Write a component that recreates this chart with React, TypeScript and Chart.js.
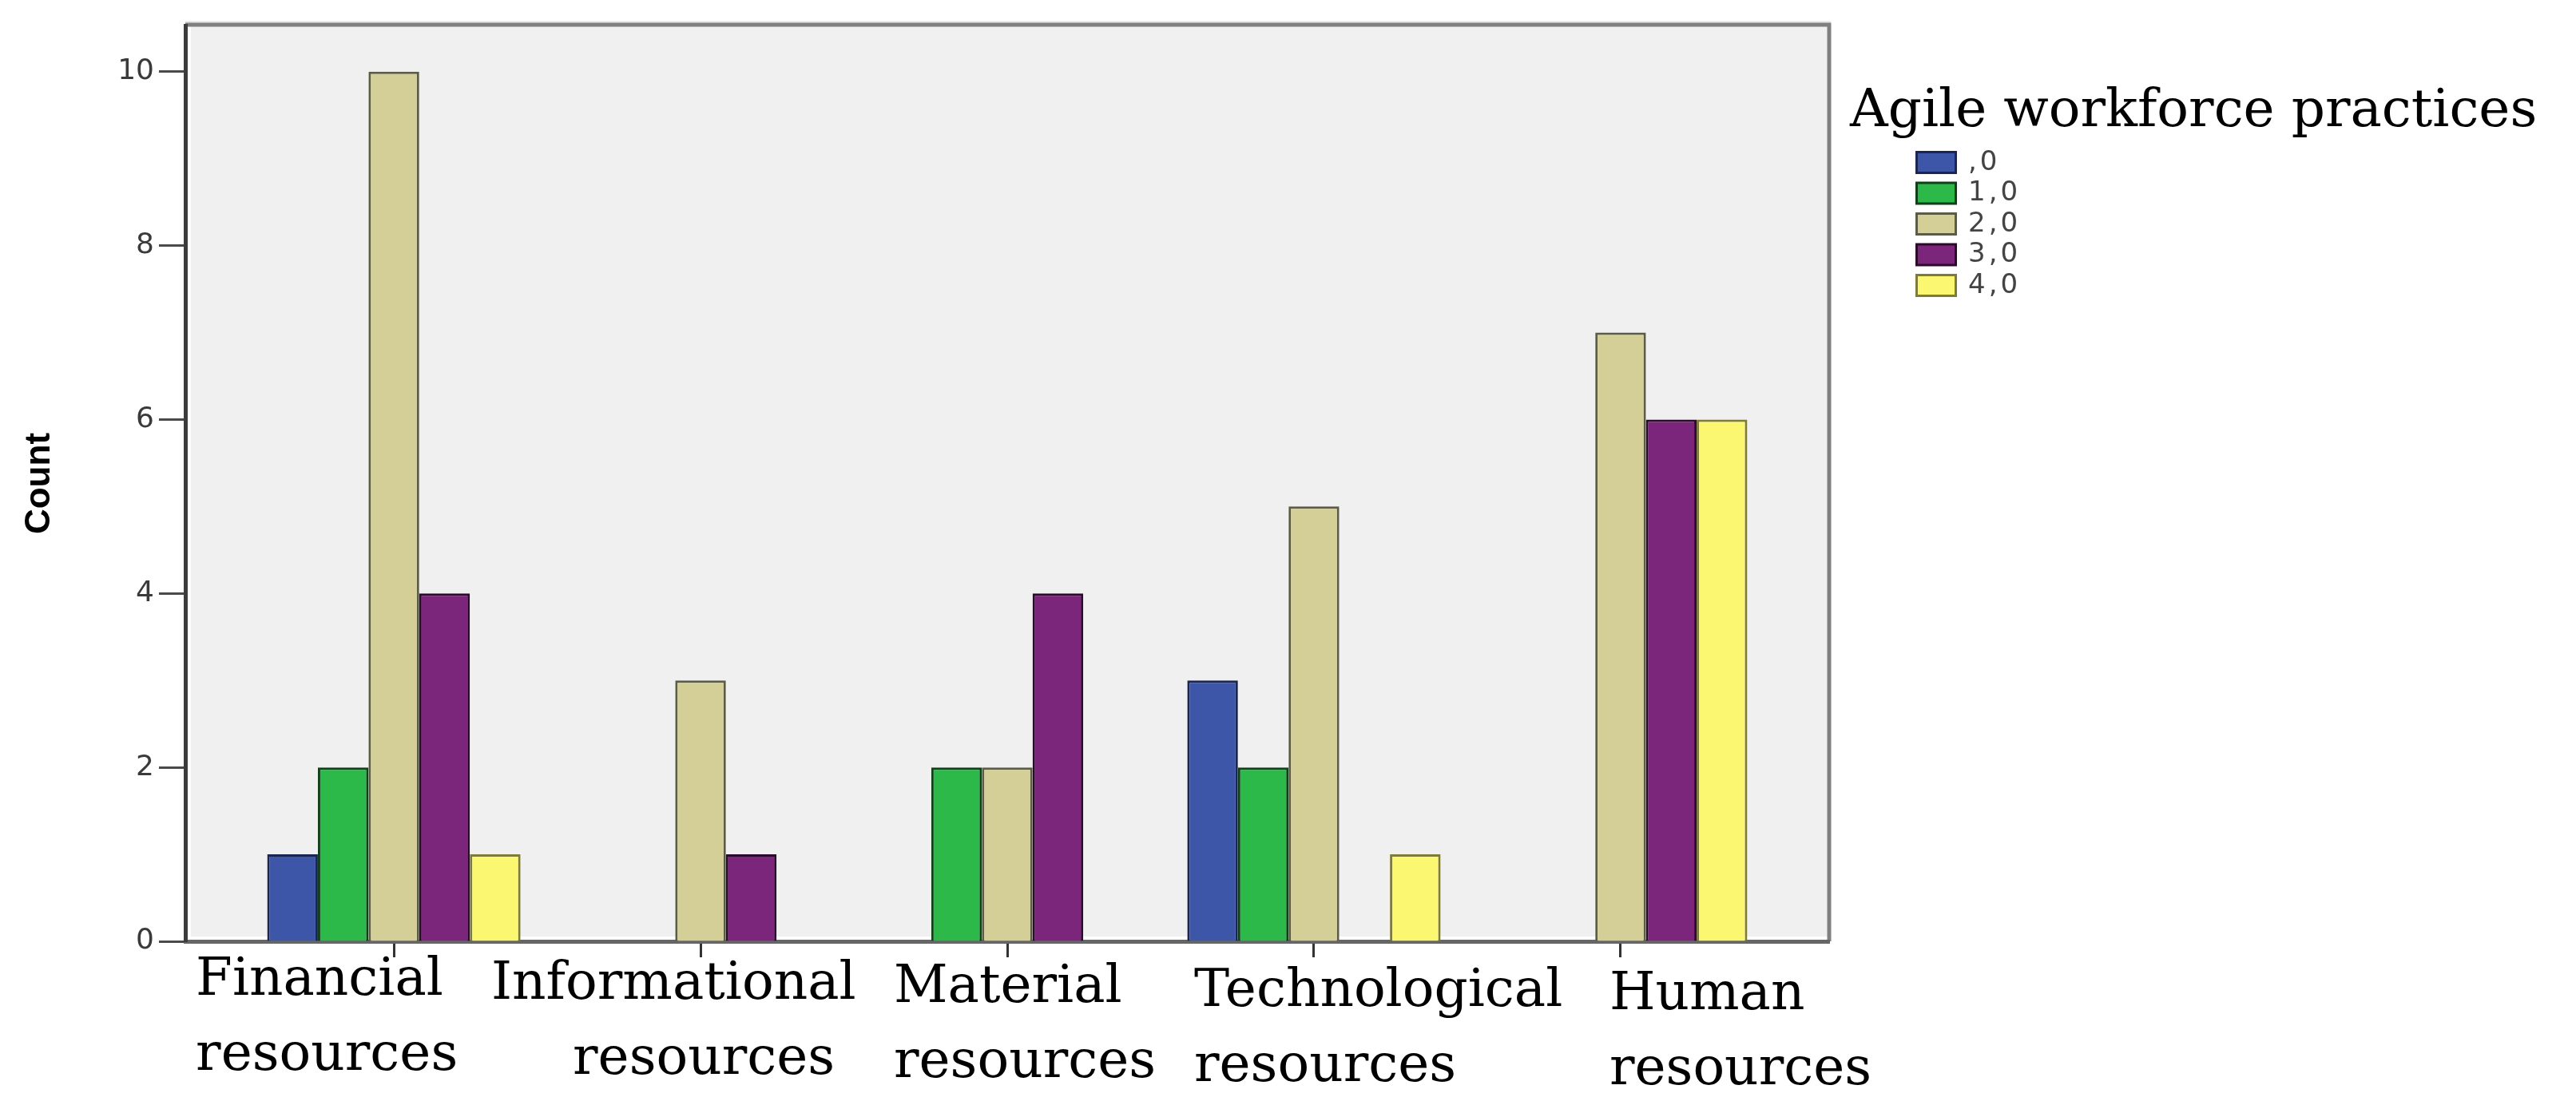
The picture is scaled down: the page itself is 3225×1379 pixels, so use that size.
import React, { useEffect, useRef } from "react";
import { Chart, registerables } from "chart.js";

Chart.register(...registerables);

// categories on the x axis (two lines each)
const categories = [
	["Financial", "resources"],
	["Informational", "resources"],
	["Material", "resources"],
	["Technological", "resources"],
	["Human", "resources"],
];

// series: agile workforce practice levels
const practiceLevels = [",0", "1,0", "2,0", "3,0", "4,0"];
const level0 = [1, 0, 0, 3, 0];
const level1 = [2, 0, 2, 2, 0];
const level2 = [10, 3, 2, 5, 7];
const level3 = [4, 1, 4, 0, 6];
const level4 = [1, 0, 0, 1, 6];
const seriesValues = [level0, level1, level2, level3, level4];

const yTicks = [0, 2, 4, 6, 8, 10];
const legendTitle = "Agile workforce practices";
const yTitle = "Count";

const fillColors = ["#3D56A8", "#2DB84A", "#D3CF97", "#7B267A", "#FBF771"];
const edgeColors = ["#1B2552", "#0E4019", "#5C5B45", "#2B0A2B", "#7E7B3A"];

// the SPSS export has the category labels hand-placed, roughly left aligned
// left edge of each label line relative to its tick, in px
const labelShift = [
	[-248, -248],
	[-262, -160],
	[-142, -142],
	[-150, -150],
	[-14, -14],
];

// SPSS-like plot frame: grey background, grey top/right lines, white inner highlight
const framePlugin = {
	id: "spssFrame",
	beforeDraw(chart: any) {
		const { ctx, chartArea } = chart;
		const { left, top, right, bottom } = chartArea;
		ctx.save();
		ctx.fillStyle = "#F0F0F0";
		ctx.fillRect(left, top, right - left, bottom - top);
		ctx.fillStyle = "#FFFFFF";
		ctx.fillRect(left + 2, top, 5, bottom - top);
		ctx.fillRect(left, bottom - 6, right - left, 4);
		ctx.strokeStyle = "#E2E2E2";
		ctx.lineWidth = 3;
		ctx.beginPath();
		ctx.moveTo(left, top - 4);
		ctx.lineTo(right + 2, top - 4);
		ctx.stroke();
		ctx.strokeStyle = "#808080";
		ctx.lineWidth = 5;
		ctx.beginPath();
		ctx.moveTo(left, top - 1);
		ctx.lineTo(right, top - 1);
		ctx.lineTo(right, bottom);
		ctx.stroke();
		ctx.restore();
	},
};

// two-line category labels under the x ticks
const categoryLabels = {
	id: "categoryLabels",
	afterDraw(chart: any) {
		const { ctx, chartArea } = chart;
		const xScale = chart.scales.x;
		ctx.save();
		ctx.fillStyle = "#000";
		ctx.font = "66px 'DejaVu Serif'";
		ctx.textAlign = "left";
		ctx.textBaseline = "alphabetic";
		categories.forEach((lines, i) => {
			const tickX = xScale.getPixelForValue(i);
			const baseY = chartArea.bottom + 67 + i * 4.5;
			lines.forEach((line, j) => {
				ctx.fillText(line, tickX + labelShift[i][j], baseY + j * 94);
			});
		});
		ctx.restore();
	},
};

// legend on the right with a large serif title
const sideLegend = {
	id: "sideLegend",
	afterDraw(chart: any) {
		const { ctx, chartArea } = chart;
		const x0 = chartArea.right;
		const y0 = chartArea.top;
		ctx.save();
		ctx.textAlign = "left";
		ctx.fillStyle = "#000";
		ctx.font = "66px 'DejaVu Serif'";
		ctx.textBaseline = "alphabetic";
		ctx.fillText(legendTitle, x0 + 26, y0 + 126);
		chart.data.datasets.forEach((ds: any, i: number) => {
			const boxTop = y0 + 157 + i * 38.5;
			ctx.fillStyle = ds.borderColor;
			ctx.fillRect(x0 + 108, boxTop, 52, 29);
			ctx.fillStyle = ds.backgroundColor;
			ctx.fillRect(x0 + 111, boxTop + 3, 46, 23);
			ctx.fillStyle = "#444";
			ctx.font = "34px 'DejaVu Sans'";
			(ctx as any).letterSpacing = "4px";
			ctx.textBaseline = "middle";
			ctx.fillText(ds.label, x0 + 174, boxTop + 15);
		});
		ctx.restore();
	},
};

const AgileResourcesChart = () => {
	const chartRef = useRef<HTMLCanvasElement>(null);
	const chartInstance = useRef<Chart | null>(null);

	useEffect(() => {
		if (!chartRef.current) return;
		const ctx = chartRef.current.getContext("2d");
		if (!ctx) return;

		if (chartInstance.current) {
			chartInstance.current.destroy();
		}

		const datasets = practiceLevels.map((label, s) => ({
			label,
			data: seriesValues[s].map((v, i) => ({ x: i, y: v })),
			backgroundColor: fillColors[s],
			borderColor: edgeColors[s],
			borderWidth: 3,
			inflateAmount: 0,
			categoryPercentage: 0.826,
			barPercentage: 1,
		}));

		chartInstance.current = new Chart(ctx, {
			type: "bar",
			data: { datasets },
			plugins: [framePlugin, categoryLabels, sideLegend],
			options: {
				animation: false,
				responsive: true,
				maintainAspectRatio: false,
				layout: {
					padding: { top: 32, right: 935, bottom: 0, left: 0 },
				},
				plugins: {
					legend: { display: false },
					tooltip: { enabled: false },
				},
				scales: {
					x: {
						type: "linear",
						min: -0.68,
						max: 4.68,
						offset: false,
						afterFit: (scale: any) => {
							scale.height = 200;
						},
						afterBuildTicks: (scale: any) => {
							scale.ticks = categories.map((_, i) => ({ value: i }));
						},
						grid: {
							offset: false,
							drawOnChartArea: false,
							drawTicks: true,
							tickLength: 20,
							tickWidth: 3,
							tickColor: "#333",
						},
						border: { display: true, color: "#666", width: 5 },
						ticks: { display: false },
					},
					y: {
						min: 0,
						max: 10.53,
						afterFit: (scale: any) => {
							scale.width = 232;
						},
						afterBuildTicks: (scale: any) => {
							scale.ticks = yTicks.map((v) => ({ value: v }));
						},
						grid: {
							drawOnChartArea: false,
							drawTicks: true,
							tickLength: 33,
							tickWidth: 3,
							tickColor: "#4a4a4a",
						},
						border: { display: true, color: "#3c3c3c", width: 5 },
						ticks: {
							padding: 6,
							color: "#3a3a3a",
							font: { family: "'DejaVu Sans'", size: 36 },
						},
						title: {
							display: true,
							text: yTitle,
							color: "#000",
							padding: { top: 23, bottom: 0 },
							font: { family: "'Liberation Sans'", size: 44, weight: "bold", lineHeight: 1.2 },
						},
					},
				},
			},
		});

		return () => {
			if (chartInstance.current) {
				chartInstance.current.destroy();
				chartInstance.current = null;
			}
		};
	}, []);

	return (
		<div
			style={{
				position: "fixed",
				left: 0,
				top: 0,
				width: "3225px",
				height: "1379px",
				background: "#fff",
			}}
		>
			<canvas ref={chartRef} />
		</div>
	);
};

export default function App() {
	return <AgileResourcesChart />;
}
